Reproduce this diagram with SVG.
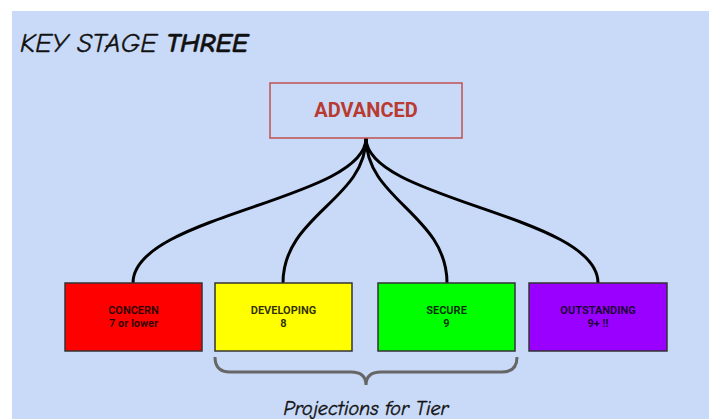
<svg xmlns="http://www.w3.org/2000/svg" width="709" height="419" viewBox="0 0 709 419">
<style>
.hand{font-family:"Comic Neue","DejaVu Sans","Liberation Sans",sans-serif;font-style:italic;fill:#111}
.box{stroke:#333;stroke-width:1.5}
.lbl{font-family:Roboto,"Liberation Sans",sans-serif;font-weight:bold;font-size:11px;fill:#000;fill-opacity:0.82;text-anchor:middle}
.conn{fill:none;stroke:#000;stroke-width:3}
</style>
<rect x="0" y="0" width="709" height="419" fill="#fff"/>
<rect x="12" y="11" width="697" height="408" fill="#c9daf8"/>
<text class="hand" x="20" y="52" font-size="27" textLength="228" lengthAdjust="spacingAndGlyphs" stroke="#111" stroke-width="0.4">KEY STAGE <tspan font-weight="bold">THREE</tspan></text>
<g id="connectors">
<path class="conn" d="M366,138 C366,200 133,215 133,283"/>
<path class="conn" d="M366,138 C366,200 283,215 283,283"/>
<path class="conn" d="M366,138 C366,200 447,215 447,283"/>
<path class="conn" d="M366,138 C366,200 598,215 598,283"/>
</g>
<g id="advanced">
<rect x="270" y="83" width="192" height="55" fill="none" stroke="#c0504d" stroke-width="1.5"/>
<text x="366" y="117" text-anchor="middle" font-family="Roboto,'Liberation Sans',sans-serif" font-weight="bold" font-size="20" fill="#b83a30">ADVANCED</text>
</g>
<g id="concern">
<rect class="box" x="65" y="283" width="137" height="68" fill="#ff0000"/>
<text class="lbl" x="133.5" y="314">CONCERN</text>
<text class="lbl" x="133.5" y="327">7 or lower</text>
</g>
<g id="developing">
<rect class="box" x="215" y="283" width="137" height="68" fill="#ffff00"/>
<text class="lbl" x="283.5" y="314">DEVELOPING</text>
<text class="lbl" x="283.5" y="327">8</text>
</g>
<g id="secure">
<rect class="box" x="378" y="283" width="137" height="68" fill="#00ff00"/>
<text class="lbl" x="446.5" y="314">SECURE</text>
<text class="lbl" x="446.5" y="327">9</text>
</g>
<g id="outstanding">
<rect class="box" x="529" y="283" width="138" height="68" fill="#9900ff"/>
<text class="lbl" x="598" y="314">OUTSTANDING</text>
<text class="lbl" x="598" y="327">9+ !!</text>
</g>
<g id="brace">
<path d="M215,357 Q215,372 230,372 L351,372 Q366,372 366,385 Q366,372 381,372 L502,372 Q517,372 517,357" fill="none" stroke="#666" stroke-width="3"/>
</g>
<text class="hand" x="366" y="415" font-size="19" text-anchor="middle" textLength="165" lengthAdjust="spacingAndGlyphs" stroke="#111" stroke-width="0.4">Projections for Tier</text>
</svg>
